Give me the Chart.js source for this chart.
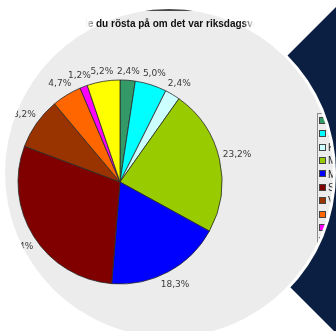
<!DOCTYPE html>
<html><head><meta charset="utf-8">
<script src="https://cdn.jsdelivr.net/npm/chart.js@4"></script>
<style>
html,body{margin:0;padding:0;background:#fff;width:336px;height:331px;overflow:hidden;position:relative;}
#navy{position:absolute;left:0;top:0;}
#ring{position:absolute;left:0;top:0;width:336px;height:331px;background:#fff;clip-path:circle(167px at 169px 173px);}
#disc{position:absolute;left:0;top:0;width:336px;height:331px;background:#ECECEC;clip-path:circle(164px at 169px 173px);}
#topline{position:absolute;left:130px;top:9px;width:80px;height:2px;background:#4a4a4a;}
#chart{position:absolute;left:0;top:0;}
#title{position:absolute;left:0;top:18px;width:336px;height:14px;
  -webkit-mask-image:linear-gradient(to right,transparent 86px,#000 97px,#000 243px,transparent 254px);
  mask-image:linear-gradient(to right,transparent 86px,#000 97px,#000 243px,transparent 254px);}
.t1,.t2{position:absolute;top:0;font:bold 10px "Liberation Sans",Arial,sans-serif;color:#111;white-space:nowrap;line-height:12px;}
.t1{right:240px;}
.t2{left:96px;}
#legend{position:absolute;left:317px;top:113px;width:80px;height:140px;border-left:1px solid #8a8a8a;border-top:1px solid #8a8a8a;}
.item{position:absolute;left:1px;height:13px;line-height:13px;font:10px "Liberation Sans",Arial,sans-serif;color:#222;white-space:nowrap;}
.sw{display:inline-block;width:5px;height:5px;border:1px solid #444;margin-right:2px;vertical-align:middle;position:relative;top:-1px;}
</style>
</head><body>
<svg id="navy" width="336" height="331"><polygon points="173,170 343,0 500,0 500,500 503,500" fill="#0B1F42"/></svg>
<div id="ring"></div>
<div id="disc">
  <div id="topline"></div>
  <canvas id="chart" width="336" height="331"></canvas>
  <div id="legend"></div>
</div>
<div id="title">
  <div class="t1">Vilket parti skulle&nbsp;</div>
  <div class="t2">du rösta på om det var riksdagsval idag?</div>
</div>
<script>
const categories = ["Centerpartiet","Folkpartiet","Kristdemokraterna","Miljöpartiet","Moderaterna","Socialdemokraterna","Vänsterpartiet","Sverigedemokraterna","Annat parti","Vet ej"];
const values = [2.4, 5.0, 2.4, 23.2, 18.3, 29.4, 8.2, 4.7, 1.2, 5.2];
const colors = ["#339966","#00FFFF","#CCFFFF","#99CC00","#0000FF","#800000","#993300","#FF6600","#FF00FF","#FFFF00"];
const valueLabels = values.map(v => v.toFixed(1).replace('.', ',') + '%');

// legend (HTML, real text)
const lg = document.getElementById('legend');
categories.forEach((c, i) => {
  const d = document.createElement('div');
  d.className = 'item';
  d.style.top = (1 + i * 13.4) + 'px';
  const s = document.createElement('span');
  s.className = 'sw';
  s.style.background = colors[i];
  d.appendChild(s);
  d.appendChild(document.createTextNode(c));
  lg.appendChild(d);
});

const pctLabels = {
  id: 'pctLabels',
  afterDatasetsDraw(chart) {
    const ctx = chart.ctx;
    const meta = chart.getDatasetMeta(0);
    ctx.save();
    ctx.font = '9px "DejaVu Sans"';
    ctx.fillStyle = '#3a3a3a';
    ctx.textAlign = 'center';
    ctx.textBaseline = 'middle';
    meta.data.forEach((arc, i) => {
      const p = arc.getProps(['x','y','startAngle','endAngle','outerRadius'], true);
      const a = (p.startAngle + p.endAngle) / 2;
      const txt = valueLabels[i];
      const w = ctx.measureText(txt).width, h = 10;
      const d = p.outerRadius + 3 + Math.abs(Math.cos(a)) * w / 2 + Math.abs(Math.sin(a)) * h / 2;
      ctx.fillText(txt, p.x + Math.cos(a) * d, p.y + Math.sin(a) * d);
    });
    ctx.restore();
  }
};

new Chart(document.getElementById('chart'), {
  type: 'pie',
  data: {
    labels: categories,
    datasets: [{
      data: values,
      backgroundColor: colors,
      borderColor: '#2a2a2a',
      borderWidth: 0.8,
      radius: 102
    }]
  },
  options: {
    responsive: false,
    animation: false,
    radius: 102,
    layout: { padding: { left: 0, right: 96, top: 33, bottom: 0 } },
    plugins: { legend: { display: false }, title: { display: false }, tooltip: { enabled: false } }
  },
  plugins: [pctLabels]
});
</script>
</body></html>
